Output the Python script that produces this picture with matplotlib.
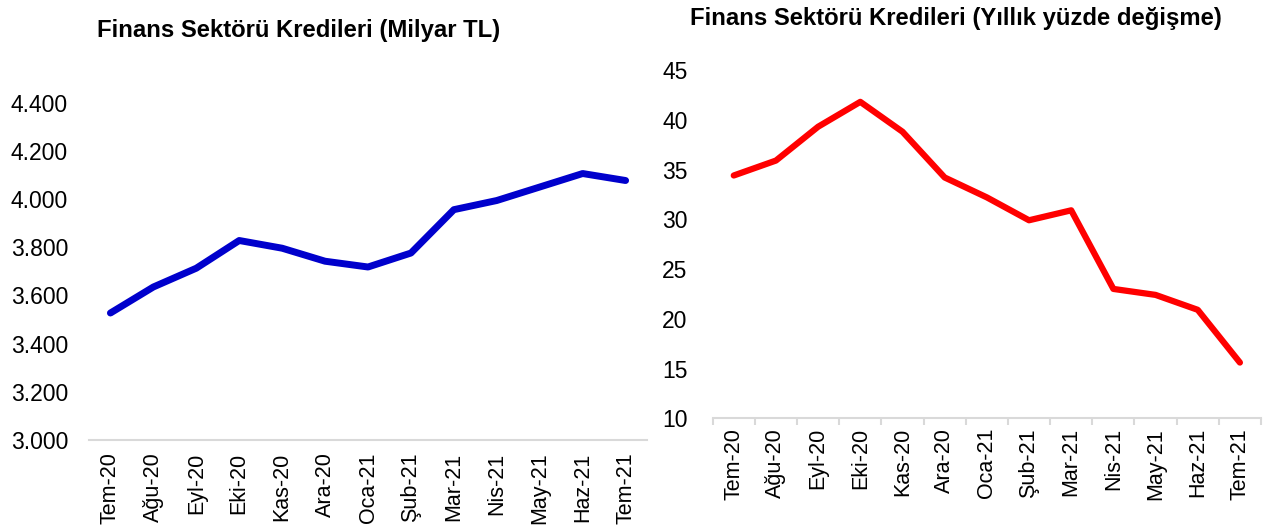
import matplotlib.pyplot as plt
from matplotlib.ticker import FuncFormatter, FixedLocator

plt.rcParams['font.family'] = ['Liberation Sans', 'DejaVu Sans']

aylar = ['Tem-20', 'Ağu-20', 'Eyl-20', 'Eki-20', 'Kas-20', 'Ara-20', 'Oca-21',
         'Şub-21', 'Mar-21', 'Nis-21', 'May-21', 'Haz-21', 'Tem-21']
krediler = [3527, 3635, 3713, 3828, 3796, 3742, 3718, 3776, 3956, 3994, 4050, 4106, 4077]
yillik_degisim = [34.4, 35.9, 39.3, 41.8, 38.8, 34.2, 32.2, 29.9, 30.9, 23.0, 22.4, 20.9, 15.6]

fig = plt.figure(figsize=(12.69, 5.28), dpi=100)
x = list(range(len(aylar)))

# sol grafik
ax1 = fig.add_axes([0.0701, 0.1667, 0.4398, 0.6388])
ax1.plot(x, krediler, color='#0000CC', lw=5, solid_capstyle='round')
ax1.set_xlim(-0.5, 12.5)
ax1.set_ylim(3000, 4400)
ax1.set_yticks(range(3000, 4401, 200))
ax1.yaxis.set_major_formatter(FuncFormatter(lambda v, p: f'{v:,.0f}'.replace(',', '.')))
ax1.set_xticks(x)
ax1.set_xticklabels(aylar, rotation=90)
for s in ['top', 'right', 'left']:
    ax1.spines[s].set_visible(False)
ax1.spines['bottom'].set_color('#d9d9d9')
ax1.spines['bottom'].set_linewidth(1.5)
ax1.tick_params(axis='x', length=0, pad=9, labelsize=15.5)
ax1.tick_params(axis='y', length=0, pad=15, labelsize=16.5)
fig.text(0.235, 0.943, 'Finans Sektörü Kredileri (Milyar TL)', ha='center', va='center',
         fontsize=17.2, fontweight='bold')

# sag grafik
ax2 = fig.add_axes([0.5616, 0.2078, 0.4321, 0.6596])
ax2.plot(x, yillik_degisim, color='#FF0000', lw=4.5, solid_capstyle='round')
ax2.set_xlim(-0.5, 12.5)
ax2.set_ylim(10, 45)
ax2.set_yticks(range(10, 46, 5))
ax2.set_xticks(x)
ax2.set_xticklabels(aylar, rotation=90)
ax2.xaxis.set_minor_locator(FixedLocator([i - 0.5 for i in range(len(aylar) + 1)]))
for s in ['top', 'right', 'left']:
    ax2.spines[s].set_visible(False)
ax2.spines['bottom'].set_color('#d9d9d9')
ax2.spines['bottom'].set_linewidth(1.5)
ax2.tick_params(axis='x', which='major', length=0, pad=7, labelsize=15.5)
ax2.tick_params(axis='x', which='minor', length=5, width=1.5, color='#d9d9d9')
ax2.tick_params(axis='y', length=0, pad=18, labelsize=16.5)
fig.text(0.753, 0.965, 'Finans Sektörü Kredileri (Yıllık yüzde değişme)', ha='center',
         va='center', fontsize=17.2, fontweight='bold')

fig.savefig('out.png', dpi=100)
